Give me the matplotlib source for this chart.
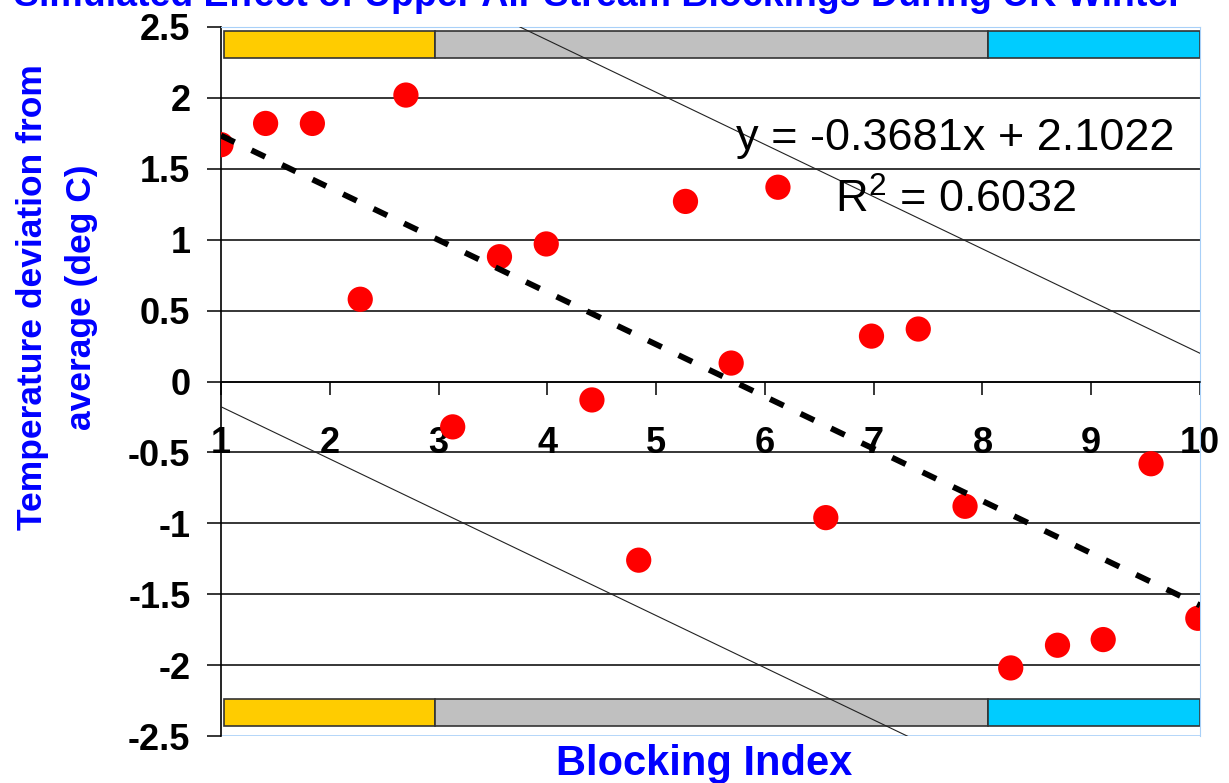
import matplotlib
matplotlib.use('Agg')
import matplotlib.pyplot as plt
from matplotlib.ticker import FormatStrFormatter

plt.rcParams['font.family'] = ['Liberation Sans', 'DejaVu Sans']
plt.rcParams['axes.unicode_minus'] = False
plt.rcParams['mathtext.fontset'] = 'custom'
plt.rcParams['mathtext.rm'] = 'Liberation Sans'

# データ
blocking_index = [1.00, 1.41, 1.84, 2.28, 2.70, 3.13, 3.56, 3.99, 4.41, 4.84, 5.27,
                  5.69, 6.12, 6.56, 6.98, 7.41, 7.84, 8.26, 8.69, 9.11, 9.55, 9.98]
temp_deviation = [1.67, 1.82, 1.82, 0.58, 2.02, -0.32, 0.88, 0.97, -0.13, -1.26, 1.27,
                  0.13, 1.37, -0.96, 0.32, 0.37, -0.88, -2.02, -1.86, -1.82, -0.58, -1.67]

# 回帰直線と上下の線
trend_slope = -0.3681
trend_intercept = 2.1022
r_squared = 0.6032
upper_intercept = 3.88
lower_intercept = 0.19

# 上下の色帯（区切り位置と色）
band_edges = [1.03, 2.97, 8.05, 10.0]
band_colors = ['#FFCC00', '#C0C0C0', '#00CCFF']

x_ticks = [1, 2, 3, 4, 5, 6, 7, 8, 9, 10]
y_ticks = [-2.5, -2, -1.5, -1, -0.5, 0, 0.5, 1, 1.5, 2, 2.5]

title = 'Simulated Effect of Upper Air Stream Blockings During UK Winter'
blue = '#0000FF'
border_blue = '#A8D0F8'


def main():
    fig = plt.figure(figsize=(12.29, 7.83), dpi=100)
    ax = fig.add_axes([221 / 1229, 47 / 783, 979 / 1229, 709 / 783])

    ax.set_xlim(1, 10)
    ax.set_ylim(-2.5, 2.5)

    # 横の罫線
    ax.hlines(y_ticks[1:-1], 1, 10, color='black', lw=1.1, zorder=1)

    # 上下の色帯
    lefts = band_edges[:-1]
    widths = [b - a for a, b in zip(band_edges[:-1], band_edges[1:])]
    for yc in (2.377, -2.335):
        ax.barh([yc] * 3, widths, left=lefts, height=0.19, color=band_colors,
                edgecolor='#333333', linewidth=1.2, zorder=2)

    # 上下の細い線
    xs = [1, 10]
    ax.plot(xs, [trend_slope * x + upper_intercept for x in xs], color='#222222', lw=0.8, zorder=3)
    ax.plot(xs, [trend_slope * x + lower_intercept for x in xs], color='#222222', lw=0.8, zorder=3)

    # データ点
    ax.scatter(blocking_index, temp_deviation, s=330, color='#FF0000', edgecolors='none', zorder=4)

    # 回帰直線
    ax.plot(xs, [trend_slope * x + trend_intercept for x in xs], color='black', lw=4.2,
            dashes=(2.6, 3.2), zorder=5)

    ax.text(7.75, 1.63, 'y = %.4fx + %.4f' % (trend_slope, trend_intercept),
            ha='center', va='baseline', fontsize=32.5, zorder=6)
    ax.text(7.75, 1.19, r'R$^{\mathrm{2}}$ = %.4f' % r_squared,
            ha='center', va='baseline', fontsize=32.5, zorder=6)

    # 軸の体裁
    ax.spines['bottom'].set_position(('data', 0))
    ax.spines['bottom'].set_linewidth(1.1)
    ax.spines['left'].set_linewidth(1.2)
    ax.spines['top'].set_color(border_blue)
    ax.spines['right'].set_color(border_blue)
    ax.axhline(-2.5, color=border_blue, lw=1.2, zorder=0)

    ax.set_xticks(x_ticks)
    ax.set_yticks(y_ticks)
    ax.yaxis.set_major_formatter(FormatStrFormatter('%g'))
    ax.tick_params(axis='y', direction='out', length=10, width=1.1, pad=12,
                   labelsize=26)
    ax.tick_params(axis='x', direction='out', length=9, width=1.1, pad=23,
                   labelsize=26)
    for lbl in ax.get_xticklabels() + ax.get_yticklabels():
        lbl.set_fontweight('bold')

    fig.text(704 / 1229, 8 / 783, 'Blocking Index', ha='center', va='baseline',
             fontsize=30, fontweight='bold', color=blue)
    fig.text(57 / 1229, 1 - 297 / 783, 'Temperature deviation from\naverage (deg C)',
             ha='center', va='center', rotation=90, multialignment='center',
             fontsize=25.5, fontweight='bold', color=blue, linespacing=1.6)
    fig.text(598 / 1229, 1 - 6 / 783, title, ha='center', va='baseline',
             fontsize=27, fontweight='bold', color=blue)

    fig.savefig('out.png', dpi=100)


if __name__ == '__main__':
    main()
